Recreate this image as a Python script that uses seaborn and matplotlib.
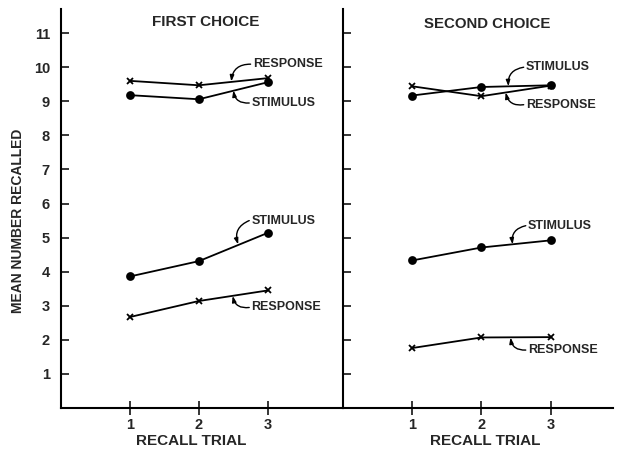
import numpy as np
import pandas as pd
import matplotlib
matplotlib.use("Agg")
import matplotlib.pyplot as plt
import seaborn as sns

# values (mean number recalled)
trials = [1, 2, 3]
first_response_hi = [9.60, 9.47, 9.68]
first_stimulus_hi = [9.18, 9.06, 9.56]
first_stimulus_lo = [3.86, 4.31, 5.14]
first_response_lo = [2.67, 3.14, 3.45]
second_response_hi = [9.44, 9.15, 9.46]
second_stimulus_hi = [9.17, 9.42, 9.47]
second_stimulus_lo = [4.33, 4.71, 4.92]
second_response_lo = [1.76, 2.07, 2.08]

panel_titles = ["FIRST CHOICE", "SECOND CHOICE"]
y_ticks = list(range(1, 12))

series = {
    ("first", "stimulus", "hi"): first_stimulus_hi,
    ("first", "response", "hi"): first_response_hi,
    ("first", "stimulus", "lo"): first_stimulus_lo,
    ("first", "response", "lo"): first_response_lo,
    ("second", "stimulus", "hi"): second_stimulus_hi,
    ("second", "response", "hi"): second_response_hi,
    ("second", "stimulus", "lo"): second_stimulus_lo,
    ("second", "response", "lo"): second_response_lo,
}

rows = []
for (panel, kind, level), vals in series.items():
    for t, v in zip(trials, vals):
        rows.append({"panel": panel, "kind": kind, "level": level,
                     "trial": t, "recalled": v})
df = pd.DataFrame(rows)

sns.set_style("ticks")
plt.rcParams["font.family"] = ["Liberation Sans", "DejaVu Sans"]
plt.rcParams["font.weight"] = "bold"

fig = plt.figure(figsize=(6.2, 4.49), dpi=100)
ax1 = fig.add_axes([0.0984, 0.0913, 0.4548, 0.888])
ax2 = fig.add_axes([0.5532, 0.0913, 0.4355, 0.888])

markers = {"stimulus": "o", "response": "x"}

for ax, panel in [(ax1, "first"), (ax2, "second")]:
    sub = df[df["panel"] == panel]
    for (kind, level), grp in sub.groupby(["kind", "level"]):
        sns.lineplot(data=grp, x="trial", y="recalled", ax=ax,
                     color="black", linewidth=1.3,
                     marker=markers[kind], markersize=5,
                     markeredgecolor="black", markeredgewidth=1.3)
    ax.set_ylim(0, 11.7)
    ax.set_yticks(y_ticks)
    ax.set_xticks(trials)
    ax.set_xticklabels(["1", "2", "3"])
    for s in ["top", "right"]:
        ax.spines[s].set_visible(False)
    for s in ["left", "bottom"]:
        ax.spines[s].set_linewidth(1.5)
        ax.spines[s].set_color("black")
    ax.tick_params(axis="y", direction="in", length=6, width=1.3, pad=8,
                   labelsize=10.5)
    ax.tick_params(axis="x", direction="inout", length=10, width=1.3, pad=2,
                   labelsize=10.5)
    ax.set_xlabel("RECALL TRIAL", fontsize=11, fontweight="bold")
    ax.set_ylabel("")

ax1.set_xlim(0, 4.09)
ax2.set_xlim(0, 3.9)
ax2.set_yticklabels([])

ax1.xaxis.set_label_coords(0.46, -0.065)
ax2.xaxis.set_label_coords(0.526, -0.065)

ax1.set_ylabel("MEAN NUMBER RECALLED", fontsize=10, fontweight="bold")
ax1.yaxis.label.set_va("center")
ax1.yaxis.set_label_coords(-0.152, 0.47)

ax1.text(0.514, 0.968, panel_titles[0], transform=ax1.transAxes,
         ha="center", va="center", fontsize=11, fontweight="bold")
ax2.text(0.533, 0.963, panel_titles[1], transform=ax2.transAxes,
         ha="center", va="center", fontsize=10.8, fontweight="bold")

# curved leader labels: text position, arrow tip on the line, arc direction
labels = [
    (ax1, "RESPONSE", (2.78, 10.09), (2.47, 9.58), 0.45),
    (ax1, "STIMULUS", (2.76, 8.95), (2.50, 9.32), -0.45),
    (ax1, "STIMULUS", (2.76, 5.50), (2.57, 4.80), 0.45),
    (ax1, "RESPONSE", (2.76, 2.95), (2.49, 3.29), -0.45),
    (ax2, "STIMULUS", (2.64, 10.00), (2.39, 9.44), 0.45),
    (ax2, "RESPONSE", (2.64, 8.90), (2.35, 9.26), -0.45),
    (ax2, "STIMULUS", (2.67, 5.35), (2.45, 4.80), 0.45),
    (ax2, "RESPONSE", (2.67, 1.70), (2.42, 2.07), -0.45),
]
for ax, txt, (tx, ty), xy, rad in labels:
    ax.text(tx, ty, txt, ha="left", va="center", fontsize=9,
            fontweight="bold")
    ax.annotate("", xy=xy, xytext=(tx - 0.03, ty), textcoords="data",
                arrowprops=dict(arrowstyle="-|>,head_length=0.35,head_width=0.12",
                                color="black", lw=1.0,
                                connectionstyle=f"arc3,rad={rad}",
                                shrinkA=0, shrinkB=0))

fig.savefig("out.png", dpi=100)
